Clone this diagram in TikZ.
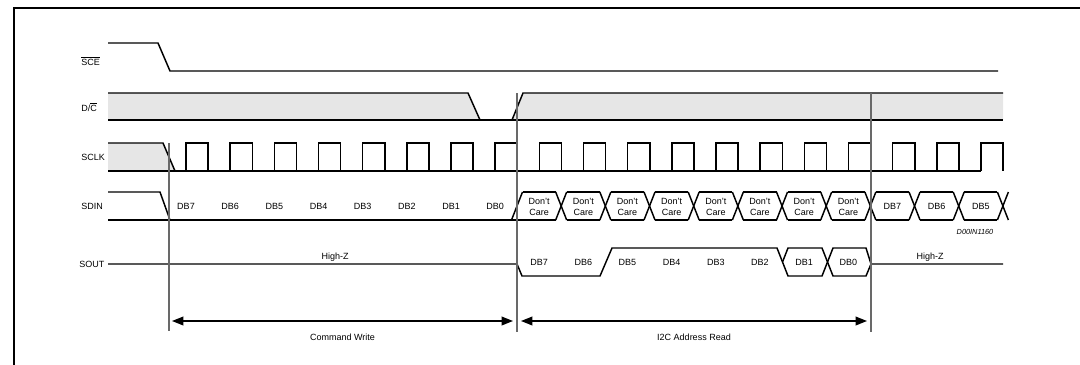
\documentclass[tikz,border=0pt]{standalone}
\usepackage{fontspec}
\setmainfont{Liberation Sans}
\usetikzlibrary{arrows.meta}
\definecolor{bandgray}{RGB}{230,230,230}
\definecolor{markgray}{RGB}{105,105,105}
\tikzset{%
  sig/.style={line width=1.1pt, line join=miter},
  band/.style={fill=bandgray},
  marker/.style={draw=markgray, line width=0.8pt},
  span/.style={line width=1.1pt,
    {Triangle[length=8.5pt,width=6.5pt]}-{Triangle[length=8.5pt,width=6.5pt]}},
  lbl/.style={font=\fontsize{6.75}{8.25}\selectfont, inner sep=0pt},
  tag/.style={lbl, anchor=west},
}
\newcommand{\ovl}[1]{$\overline{\mbox{#1}}$}
\begin{document}
\begin{tikzpicture}[x=0.75pt, y=-0.75pt]
		\useasboundingbox (0,0) rectangle (1080,364);
		% frame
		\draw [line width=1.5pt] (14,380) -- (14,7.5) -- (1100,7.5);
		% signal names
		\node [tag] (sce)  at (81,61)  {\ovl{SCE}};
		\node [tag] (dc)   at (81,107) {D/\ovl{C}};
		\node [tag] (sclk) at (81,157) {SCLK};
		\node [tag] (sdin) at (81,206) {SDIN};
		\node [tag] (sout) at (79,264) {SOUT};
		% SCE
		\draw [sig] (108,43) -- (158,43) -- (170,71) -- (998,71);
		% D/C
		\fill [band] (108,93) -- (468,93) -- (480,120) -- (108,120) -- cycle;
		\fill [band] (523,93) -- (1003,93) -- (1003,120) -- (512,120) -- cycle;
		\draw [sig] (108,93) -- (468,93) -- (480,120);
		\draw [sig] (512,120) -- (523,93) -- (1003,93);
		\draw [sig] (108,120) -- (1003,120);
		% SCLK
		\fill [band] (108,143) -- (163,143) -- (175,171) -- (108,171) -- cycle;
		\draw [sig] (108,143) -- (163,143) -- (175,171);
		\draw [sig] (108,171) -- (981,171);
		\foreach \k in {0,...,18} {
			\pgfmathsetmacro\r{186+44.17*\k}
			\pgfmathsetmacro\f{\r+22.08}
			\draw [sig] (\r,171) -- (\r,143) -- (\f,143) -- (\f,171);
		}
		% SDIN, command byte
		\draw [sig] (108,192) -- (160,192) -- (170,220);
		\draw [sig] (108,220) -- (555.7,220);
		\draw [sig] (511.5,220) -- (522.5,192);
		\foreach \b [count=\i from 0] in {7,...,0}
			\node [lbl] at (186+44.17*\i,206) {DB\b};
		% SDIN, read phase
		\foreach \j in {0,...,10} {
			\pgfmathsetmacro\a{517+44.17*\j}
			\pgfmathsetmacro\e{\a+44.17}
			\draw [sig] (\a+5.5,192) -- (\e-5.5,192);
			\draw [sig] (\a+5.5,220) -- (\e-5.5,220);
			\draw [sig] (\e-5.5,192) -- (\e+5.5,220);
			\draw [sig] (\e-5.5,220) -- (\e+5.5,192);
		}
		\foreach \j in {0,...,7}
			\node [lbl, align=center] at (539.1+44.17*\j,207) {Don't\\Care};
		\foreach \b [count=\i from 8] in {7,6,5}
			\node [lbl] at (539.1+44.17*\i,206) {DB\b};
		\node [lbl, font=\fontsize{5.5}{6}\selectfont\itshape] (fig) at (975,232) {D00IN1160};
		% SOUT
		\draw [sig] (108,264) -- (517,264) -- (522,276) -- (600,276) -- (612,248) -- (777,248) -- (788,276) -- (822,276) -- (833,248) -- (866,248) -- (871,264) -- (1003,264);
		\draw [sig] (782.5,262) -- (788,248) -- (822,248) -- (833,276) -- (866,276) -- (871,264);
		\foreach \b [count=\i from 0] in {7,...,0}
			\node [lbl] at (539.1+44.17*\i,262) {DB\b};
		\node [lbl] (hz1) at (335,257) {High-Z};
		\node [lbl] (hz2) at (930,257) {High-Z};
		% markers and spans
		\coordinate (m1a) at (169,143);
		\coordinate (m1b) at (169,331);
		\coordinate (m2a) at (517,93);
		\coordinate (m2b) at (517,332);
		\coordinate (m3a) at (871,93);
		\coordinate (m3b) at (871,332);
		\draw [marker] (m1a) -- (m1b);
		\draw [marker] (m2a) -- (m2b);
		\draw [marker] (m3a) -- (m3b);
		\coordinate (cwL) at (172,321);
		\coordinate (cwR) at (513,321);
		\coordinate (arL) at (521,321);
		\coordinate (arR) at (867,321);
		\draw [span] (cwL) -- node [lbl, below=9.5pt] {Command Write} (cwR);
		\draw [span] (arL) -- node [lbl, below=9.5pt] {I2C Address Read} (arR);
	\end{tikzpicture}
\end{document}
